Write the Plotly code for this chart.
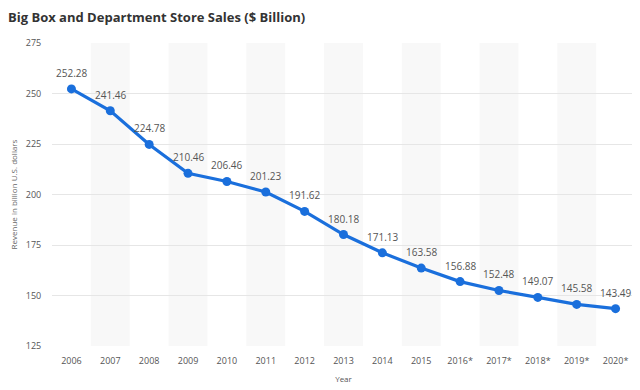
import plotly.graph_objects as go

years = ["2006", "2007", "2008", "2009", "2010", "2011", "2012", "2013", "2014",
         "2015", "2016*", "2017*", "2018*", "2019*", "2020*"]
sales = [252.28, 241.46, 224.78, 210.46, 206.46, 201.23, 191.62, 180.18, 171.13,
         163.58, 156.88, 152.48, 149.07, 145.58, 143.49]
y_ticks = [125, 150, 175, 200, 225, 250, 275]

FONT = "Open Sans, sans-serif"
BLUE = "#1a6fdc"

fig = go.Figure()
fig.add_trace(go.Scatter(
    x=years, y=sales, mode="lines+markers",
    line=dict(color=BLUE, width=3.2),
    marker=dict(color=BLUE, size=9),
    cliponaxis=False, hoverinfo="skip",
))

# category positions by index (numeric-looking year strings would be read as numbers)
annotations = [dict(x=i, y=v, xref="x", yref="y", text=f"{v:.2f}", showarrow=False,
                    yshift=16, font=dict(family=FONT, size=10, color="#555555"))
               for i, v in enumerate(sales)]

shapes = []
for i in range(1, len(years), 2):
    shapes.append(dict(type="rect", xref="x", yref="y", x0=i - 0.5, x1=i + 0.5,
                       y0=y_ticks[0], y1=y_ticks[-1], fillcolor="#f8f8f8",
                       line=dict(width=0), layer="below"))

# page body has an 8px default margin, so the figure is sized to fit the 640x390 window
fig.update_layout(
    width=632, height=382,
    margin=dict(l=44, r=5, t=35, b=44),
    paper_bgcolor="white", plot_bgcolor="white",
    showlegend=False, shapes=shapes, annotations=annotations,
    title=dict(text="<b>Big Box and Department Store Sales ($ Billion)</b>",
               x=0.0, xanchor="left", y=1.0, yanchor="top", pad=dict(t=5, l=0),
               font=dict(family=FONT, size=13, color="#333333")),
    xaxis=dict(type="category", range=[-0.5, len(years) - 0.5],
               showgrid=False, showline=False, zeroline=False, automargin=False,
               ticks="outside", ticklen=6, tickcolor="rgba(0,0,0,0)",
               tickfont=dict(family=FONT, size=9, color="#555555"),
               title=dict(text="Year", standoff=10,
                          font=dict(family=FONT, size=8, color="#555555"))),
    yaxis=dict(range=[125, 275], tickvals=y_ticks, showgrid=True, automargin=False,
               gridcolor="#e6e6e6", gridwidth=1, zeroline=False, showline=False,
               ticks="outside", ticklen=8, tickcolor="rgba(0,0,0,0)",
               tickfont=dict(family=FONT, size=9, color="#555555"),
               title=dict(text="Revenue in billion U.S. dollars", standoff=8,
                          font=dict(family=FONT, size=8, color="#666666"))),
)

fig.write_html("out.html")
